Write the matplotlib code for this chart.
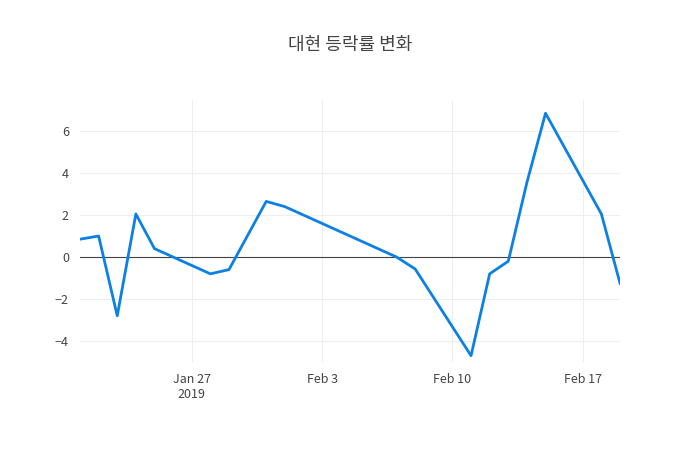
import matplotlib
matplotlib.use("Agg")
import matplotlib.pyplot as plt
import matplotlib.dates as mdates
import pandas as pd

dates = ["2019-01-21","2019-01-22","2019-01-23","2019-01-24","2019-01-25",
         "2019-01-28","2019-01-29","2019-01-31","2019-02-01","2019-02-07","2019-02-08",
         "2019-02-11","2019-02-12","2019-02-13","2019-02-14","2019-02-15",
         "2019-02-18","2019-02-19"]
values = [0.85,1.0,-2.8,2.05,0.4,-0.8,-0.6,2.65,2.4,0.0,-0.57,
          -4.7,-0.8,-0.2,3.55,6.85,2.05,-1.25]
title = "대현 등락률 변화"

plt.rcParams['font.family'] = ['Noto Sans CJK KR', 'Open Sans', 'DejaVu Sans']
x = pd.to_datetime(dates)
fig = plt.figure(figsize=(7, 4.5), dpi=100)
ax = fig.add_axes([80/700, 1-362/450, 540/700, 262/450])
ax.plot(x, values, color='#0d80e6', lw=2, zorder=3)
ax.axhline(0, color='#444444', lw=0.8, zorder=2)
ax.set_xlim(x[0], x[-1])
ax.set_ylim(-5.0, 7.48)
ax.set_yticks([-4, -2, 0, 2, 4, 6])
ax.set_yticklabels(['−4', '−2', '0', '2', '4', '6'])
ticks = pd.to_datetime(["2019-01-27", "2019-02-03", "2019-02-10", "2019-02-17"])
ax.set_xticks(ticks)
ax.set_xticklabels(["Jan 27\n2019", "Feb 3", "Feb 10", "Feb 17"])
ax.grid(True, color='#eeeeee', lw=0.8)
for s in ax.spines.values():
    s.set_visible(False)
ax.tick_params(length=0, colors='#444444', labelsize=9, pad=8)
fig.suptitle(title, y=1-45/450, va='center', fontsize=13, color='#444444')
fig.savefig("out.png")
